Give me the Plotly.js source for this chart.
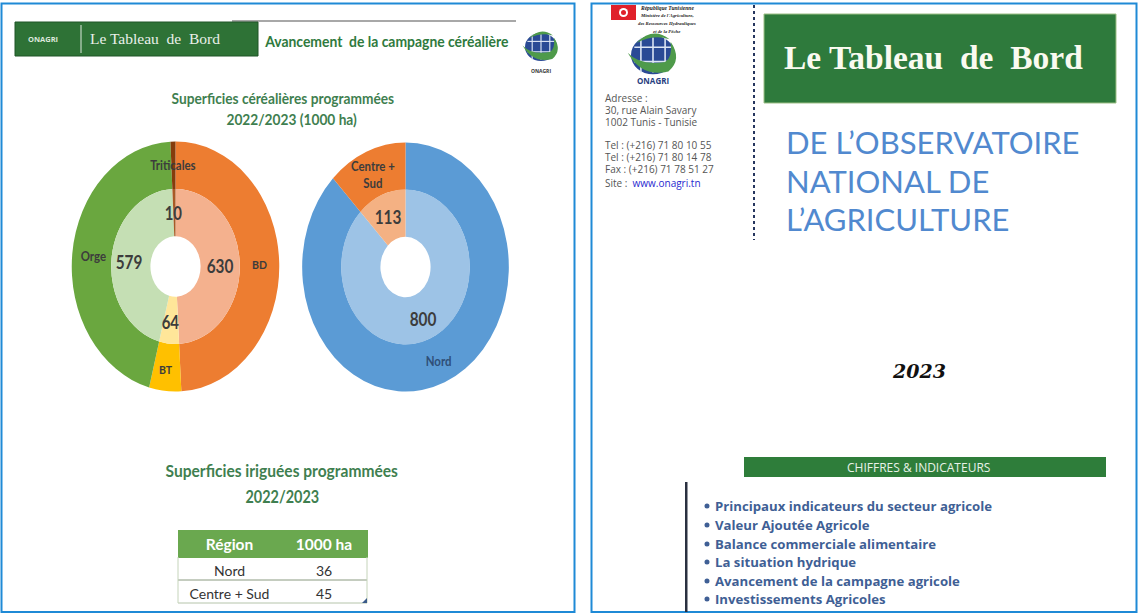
<!DOCTYPE html>
<html><head><meta charset="utf-8">
<script src="https://cdn.plot.ly/plotly-3.0.1.min.js"></script>
<style>html,body{margin:0;padding:0;background:#fff;overflow:hidden}#c{width:1139px;height:614px}</style>
</head><body><div id="c"></div>
<script>
var cerealLabels = ['BD', 'BT', 'Orge', 'Triticales'];
var cerealValues = [630, 64, 579, 10];
var cerealOuter = ['#ED7D31', '#FFC000', '#6AA73F', '#843C0C'];
var cerealInner = ['#F4B18E', '#FFE699', '#C5DFB4', '#A85A26'];
var regionLabels = ['Nord', 'Centre +<br>Sud'];
var regionValues = [800, 113];
var regionOuter = ['#5B9BD5', '#ED7D31'];
var regionInner = ['#9DC3E6', '#F4B183'];
var tableHead = ['Région', '1000 ha'];
var tableRegions = ['Nord', 'Centre + Sud'];
var tableHa = [36, 45];
var contactLines = ['Adresse :', '30, rue Alain Savary', '1002 Tunis - Tunisie', 'Tel : (+216) 71 80 10 55', 'Tel : (+216) 71 80 14 78', 'Fax : (+216) 71 78 51 27', 'Site :  <span style="color:#2a2ad0">www.onagri.tn</span>'];
var contactY = [98, 110, 122, 145, 157, 169, 183];
var bulletLines = ['Principaux indicateurs du secteur agricole', 'Valeur Ajoutée Agricole', 'Balance commerciale alimentaire', 'La situation hydrique', 'Avancement de la campagne agricole', 'Investissements Agricoles'];
var bulletY = [506, 525, 544, 562, 581, 599];
var ministry = ['République Tunisienne', "Ministère de l'Agriculture,", 'des Ressources Hydrauliques', 'et de la Pêche'];

var W = 1139, H = 614, SQUEEZE = 0.83;
var LATO = 'Lato,"Open Sans",sans-serif';
var OPEN = '"Open Sans",sans-serif';
var SERIF = '"Liberation Serif",serif';

function dom(cx, cy, r) {
  return {x: [(cx - r) / W, (cx + r) / W], y: [1 - (cy + r) / H, 1 - (cy - r) / H]};
}
function pie(labels, values, colors, cx, cy, r, hole) {
  return {type: 'pie', labels: labels, values: values, sort: false, direction: 'clockwise', rotation: 0,
    hole: hole, domain: dom(cx, cy, r), textinfo: 'none', hoverinfo: 'label+value',
    marker: {colors: colors, line: {width: 0}}, showlegend: false};
}
var centres = [[175.5, 266.5], [405.5, 267]];
var traces = [
  pie(cerealLabels, cerealValues, cerealOuter, centres[0][0], centres[0][1], 125, 0.62),
  pie(cerealLabels, cerealValues, cerealInner, centres[0][0], centres[0][1], 77.5, 0.39),
  pie(regionLabels, regionValues, regionOuter, centres[1][0], centres[1][1], 124.5, 0.62),
  pie(regionLabels, regionValues, regionInner, centres[1][0], centres[1][1], 77.5, 0.39),
  {type: 'table', domain: {x: [178 / W, 367 / W], y: [1 - 604 / H, 1 - 530 / H]}, columnwidth: [103, 86],
    header: {values: tableHead, height: 27, align: 'center', fill: {color: '#6AA84F'},
      line: {color: '#6AA84F', width: 1}, font: {family: LATO, size: 15.5, color: '#fff', weight: 'bold'}},
    cells: {values: [tableRegions, tableHa], height: 23, align: 'center', fill: {color: '#fff'},
      line: {color: '#fff', width: 1}, font: {family: LATO, size: 14, color: '#333'}}}
];

var shapes = [], ann = [], annSqueeze = [];
function rect(x0, y0, x1, y1, fill, line, lw) {
  shapes.push({type: 'rect', xref: 'x', yref: 'y', x0: x0, y0: y0, x1: x1, y1: y1, fillcolor: fill || 'rgba(0,0,0,0)', line: {color: line || 'rgba(0,0,0,0)', width: lw || 0}});
}
function seg(x0, y0, x1, y1, color, w, dash) {
  shapes.push({type: 'line', xref: 'x', yref: 'y', x0: x0, y0: y0, x1: x1, y1: y1, line: {color: color, width: w, dash: dash || 'solid'}});
}
function oval(cx, cy, rx, ry, fill) {
  shapes.push({type: 'circle', xref: 'x', yref: 'y', x0: cx - rx, y0: cy - ry, x1: cx + rx, y1: cy + ry, fillcolor: fill, line: {width: 0, color: fill}});
}
function path(d, fill) {
  shapes.push({type: 'path', xref: 'x', yref: 'y', path: d, fillcolor: fill, line: {width: 0, color: fill}});
}
function txt(x, y, t, size, color, family, anchor, extra, sq) {
  var f = {family: family, size: size, color: color};
  if (extra) for (var k in extra) f[k] = extra[k];
  ann.push({xref: 'x', yref: 'y', x: anchor === 'left' ? x - 2 : x, y: y, text: t, showarrow: false, xanchor: anchor || 'center', yanchor: 'middle', font: f, align: anchor === 'left' ? 'left' : 'center'});
  annSqueeze.push(sq ? {x: x, s: sq} : null);
}
function logo(cx, cy, r) {
  oval(cx, cy, r, r * 0.88, '#2A4A95');
  [-0.55, 0, 0.55].forEach(function (k) { seg(cx + k * r, cy - 0.8 * r, cx + k * r, cy + 0.8 * r, '#DDE6F4', r / 14); });
  [-0.35, 0.3].forEach(function (k) { seg(cx - 0.85 * r, cy + k * r, cx + 0.85 * r, cy + k * r, '#DDE6F4', r / 14); });
  var p = function (a, b) { return (cx + a * r).toFixed(1) + ',' + (cy + b * r).toFixed(1); };
  path('M' + p(-1.15, -0.1) + ' Q' + p(-0.6, 0.5) + ' ' + p(0.55, 0.32) + ' Q' + p(0.9, 0.1) + ' ' + p(0.8, -0.6) +
       ' Q' + p(1.35, 0.2) + ' ' + p(0.7, 0.75) + ' Q' + p(-0.5, 1.05) + ' ' + p(-1.15, -0.1) + ' Z', '#4E9A4A');
  path('M' + p(-0.75, -0.55) + ' Q' + p(0, -1.3) + ' ' + p(0.75, -0.72) + ' Q' + p(0, -0.95) + ' ' + p(-0.75, -0.55) + ' Z', '#4E9A4A');
}

/* frames */
rect(1.5, 3.5, 574.5, 612, null, '#1F8AD6', 2);
rect(591.5, 3.5, 1136.5, 612, null, '#1F8AD6', 2);

/* left header */
seg(232, 21, 516, 21, '#A8A8A8', 2);
rect(15, 22, 258, 56, '#2E7236', '#1F5426', 1);
seg(81, 25, 81, 53, '#DDE8DD', 1);
txt(43, 39, 'ONAGRI', 7.5, '#DCE8DC', OPEN, 'center', {weight: 'bold'});
txt(155, 38, 'Le Tableau  de  Bord', 15.5, '#EAF0EA', SERIF);
txt(386, 40, 'Avancement  de la campagne céréalière', 16, '#2F7A3E', LATO, 'center', {weight: 'bold'}, 0.87);
logo(541, 47, 16);
txt(541, 71, 'ONAGRI', 5, '#333', OPEN, 'center', {weight: 'bold'});

/* titles */
txt(283, 98, 'Superficies céréalières programmées', 15.5, '#3F7F50', LATO, 'center', {weight: 'bold'}, 0.885);
txt(291, 119, '2022/2023 (1000 ha)', 15.5, '#3F7F50', LATO, 'center', {weight: 'bold'}, 0.885);
txt(282, 470, 'Superficies iriguées programmées', 17.5, '#3F7F50', LATO, 'center', {weight: 'bold'}, 0.89);
txt(282, 496, '2022/2023', 17, '#3F7F50', LATO, 'center', {weight: 'bold'}, 0.85);

/* donut labels, read from the arrays */
var dark = '#3C3C3C', B = {weight: 'bold'};
txt(173, 165, cerealLabels[3], 13, dark, LATO, 'center', B, 0.88);
txt(173, 213, String(cerealValues[3]), 18, dark, LATO, 'center', B, 0.83);
txt(93, 256, cerealLabels[2], 13, dark, LATO, 'center', B, 0.88);
txt(129, 262, String(cerealValues[2]), 18.5, dark, LATO, 'center', B, 0.83);
txt(220, 266, String(cerealValues[0]), 18.5, dark, LATO, 'center', B, 0.83);
txt(259, 264, cerealLabels[0], 12, dark, LATO, 'center', B, 0.88);
txt(170, 322, String(cerealValues[1]), 18, dark, LATO, 'center', B, 0.83);
txt(166, 369, cerealLabels[1], 12, dark, LATO, 'center', B, 0.88);
txt(373, 174, regionLabels[1], 13, dark, LATO, 'center', B, 0.88);
txt(388, 217, String(regionValues[1]), 18.5, dark, LATO, 'center', B, 0.83);
txt(423, 319, String(regionValues[0]), 18.5, dark, LATO, 'center', B, 0.83);
txt(438, 361, regionLabels[0], 13, '#2F4F78', LATO, 'center', B, 0.88);

/* table rules */
var rules = [[557, 'rgba(0,0,0,0)'], [580, '#8A9A80'], [603, '#B5C4AA']];
rules.forEach(function (r) {
  shapes.push({type: 'line', layer: 'above', xref: 'x', yref: 'y', x0: 178, x1: 367, y0: r[0], y1: r[0], line: {color: r[1], width: 1}});
});
[178, 367].forEach(function (x) {
  shapes.push({type: 'line', layer: 'above', xref: 'x', yref: 'y', x0: x, x1: x, y0: 557, y1: 603, line: {color: '#C5D4BA', width: 1}});
});
shapes.push({type: 'path', layer: 'above', xref: 'x', yref: 'y', path: 'M367,598 L367,603 L362,603 Z', fillcolor: '#3A5A8A', line: {width: 0, color: '#3A5A8A'}});

/* right panel side column */
rect(611, 5, 636, 20, '#E0202A');
oval(623.5, 12.5, 4.5, 4.5, '#fff');
oval(623.5, 12.5, 2.5, 2.5, '#E0202A');
ministry.forEach(function (t, i) {
  txt(667, 8 + i * 7.7, t, i === 0 ? 5.5 : 4.8, '#222', SERIF, 'center', {weight: 'bold', style: 'italic'});
});
logo(653, 55, 22);
txt(653, 80, 'ONAGRI', 8, '#27407F', OPEN, 'center', {weight: 'bold'});
contactLines.forEach(function (t, i) { txt(605, contactY[i], t, 10, '#555', OPEN, 'left'); });
seg(754, 5, 754, 240, '#26365F', 2, 'dot');

/* right panel main column */
rect(764, 14, 1116, 103, '#2E7A3C', '#9DBF85', 1);
txt(933, 57, 'Le Tableau  de  Bord', 33.5, '#FAFAF0', SERIF, 'center', {weight: 'bold'});
txt(786, 142, 'DE L’OBSERVATOIRE', 31, '#5189CF', LATO, 'left');
txt(786, 181, 'NATIONAL DE', 31, '#5189CF', LATO, 'left');
txt(786, 219, 'L’AGRICULTURE', 31, '#5189CF', LATO, 'left');
txt(919, 371, '2023', 19, '#111', '"DejaVu Serif",serif', 'center', {weight: 'bold', style: 'italic'});
rect(744, 457, 1106, 477, '#2E7D3A');
txt(918, 467, 'CHIFFRES & INDICATEURS', 12, '#E8F2E8', OPEN);
rect(685, 482, 687.5, 612, '#2A3040');
bulletLines.forEach(function (t, i) {
  oval(707, bulletY[i], 2.5, 2.5, '#3F5F95');
  txt(715, bulletY[i], t, 13.2, '#3F5F95', OPEN, 'left', {weight: 'bold'});
});

var layout = {
  width: W, height: H, margin: {l: 0, r: 0, t: 0, b: 0}, paper_bgcolor: '#fff', plot_bgcolor: 'rgba(0,0,0,0)',
  showlegend: false,
  xaxis: {range: [0, W], visible: false, fixedrange: true},
  yaxis: {range: [H, 0], visible: false, fixedrange: true},
  shapes: shapes, annotations: ann
};
var gd = document.getElementById('c');
function squeezeAround(el, x, s) {
  el.setAttribute('transform', 'translate(' + x + ' 0) scale(' + s + ' 1) translate(' + (-x) + ' 0)');
}
function squeeze() {
  var cx = [centres[0][0], centres[0][0], centres[1][0], centres[1][0]];
  gd.querySelectorAll('.pielayer .trace').forEach(function (g, i) { squeezeAround(g, cx[i], SQUEEZE); });
  gd.querySelectorAll('.annotation').forEach(function (g, i) {
    if (annSqueeze[i]) squeezeAround(g, annSqueeze[i].x, annSqueeze[i].s);
  });
}
Plotly.newPlot(gd, traces, layout, {displayModeBar: false}).then(squeeze);
gd.on && gd.on('plotly_afterplot', squeeze);
</script></body></html>
